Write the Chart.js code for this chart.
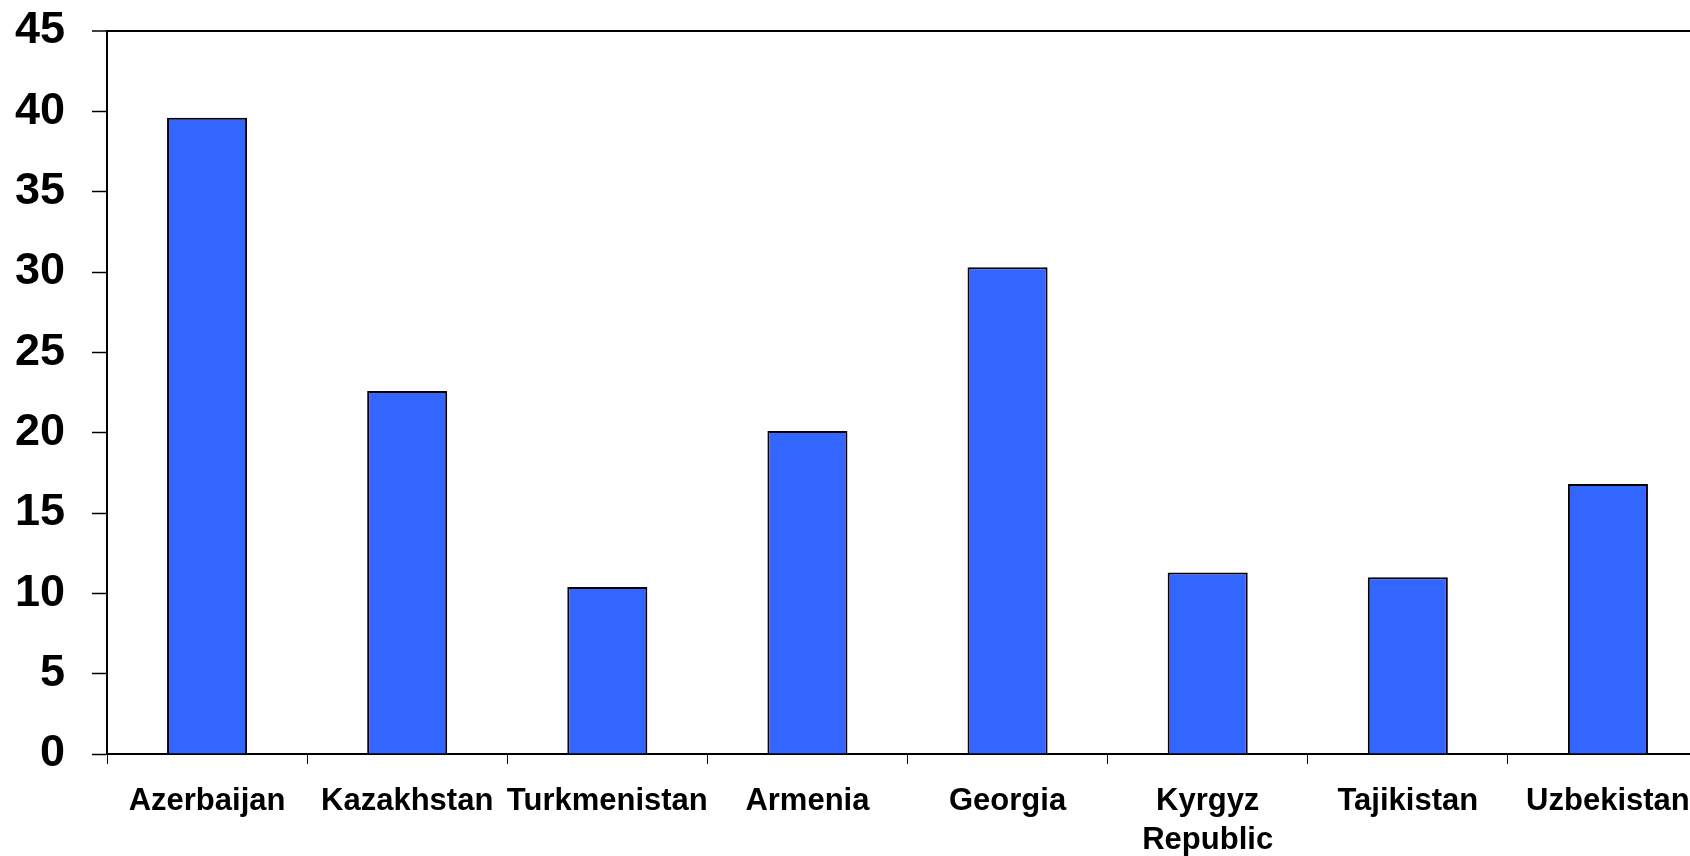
<!DOCTYPE html>
<html>
<head>
<meta charset="utf-8">
<script src="https://cdn.jsdelivr.net/npm/chart.js@4/dist/chart.umd.min.js"></script>
<style>
  html, body { margin: 0; padding: 0; background: #ffffff; overflow: hidden; }
  #wrap { position: absolute; left: 0; top: 0; width: 1708px; height: 856px; }
</style>
</head>
<body>
<div id="wrap"><canvas id="chart" width="1708" height="856"></canvas></div>
<script>
// Countries along the horizontal axis (multi-line labels as arrays)
const countries = [
  'Azerbaijan', 'Kazakhstan', 'Turkmenistan', 'Armenia',
  'Georgia', ['Kyrgyz', 'Republic'], 'Tajikistan', 'Uzbekistan'
];

// Value per country, in percent
const values = [39.6, 22.6, 10.4, 20.1, 30.3, 11.3, 11.0, 16.8];

// Vertical axis range and step
const yMin = 0;
const yMax = 45;
const yStep = 5;

const FONT = '"Liberation Sans", Arial, Helvetica, sans-serif';

new Chart(document.getElementById('chart'), {
  type: 'bar',
  data: {
    labels: countries,
    datasets: [{
      data: values,
      backgroundColor: '#3366ff',
      borderColor: '#000000',
      borderWidth: 2,
      borderSkipped: 'start',
      barPercentage: 0.4,
      categoryPercentage: 1.0
    }]
  },
  options: {
    responsive: false,
    devicePixelRatio: 1,
    animation: false,
    layout: { padding: { top: 31, left: 0, right: 0, bottom: 0 } },
    plugins: {
      legend: { display: false },
      tooltip: { enabled: false },
      title: { display: false }
    },
    scales: {
      x: {
        type: 'category',
        offset: true,
        afterFit: (scale) => { scale.height = 102; },
        grid: {
          offset: true,
          drawOnChartArea: false,
          drawTicks: true,
          tickLength: 10,
          tickColor: '#000000',
          tickWidth: 1
        },
        border: { display: true, color: '#000000', width: 2 },
        ticks: {
          color: '#000000',
          padding: 18,
          maxRotation: 0,
          autoSkip: false,
          font: { family: FONT, size: 31, weight: 'bold', lineHeight: 1.25 }
        }
      },
      y: {
        min: yMin,
        max: yMax,
        afterFit: (scale) => {
          scale.width = 107;
          // let the layout padding alone decide the plot's top edge
          scale.paddingTop = 0;
          scale.paddingBottom = 0;
        },
        grid: {
          drawOnChartArea: true,
          drawTicks: true,
          tickLength: 15,
          color: (ctx) => (ctx.tick && ctx.tick.value === yMax) ? '#000000' : 'rgba(0,0,0,0)',
          lineWidth: (ctx) => (ctx.tick && ctx.tick.value === yMax) ? 2 : 1,
          tickColor: '#000000',
          tickWidth: 1.5
        },
        border: { display: true, color: '#000000', width: 2 },
        ticks: {
          stepSize: yStep,
          color: '#000000',
          padding: 27,
          font: { family: FONT, size: 45, weight: 'bold' }
        }
      }
    }
  }
});
</script>
</body>
</html>
